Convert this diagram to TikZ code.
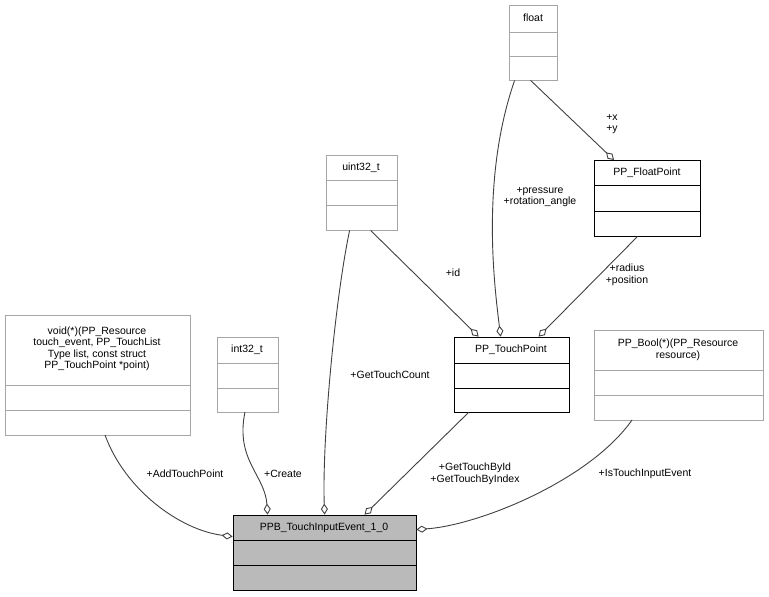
\documentclass[tikz,border=0pt]{standalone}
\usepackage{fontspec}
\setmainfont{Liberation Sans}
\usetikzlibrary{arrows.meta}
\begin{document}
\begin{tikzpicture}[x=1pt,y=-1pt,
  edge/.style={draw=black!75,line width=0.9pt,-{Diamond[open,length=11pt,width=7pt]}},
  lbl/.style={font=\fontsize{10.5}{11.5}\selectfont,align=center,inner sep=0pt},
  ttl/.style={font=\fontsize{10.5}{11.5}\selectfont,align=center,inner sep=0pt}]
\useasboundingbox (0,0) rectangle (769,597);
\newcommand\umlbox[9]{%
  \node[draw=#8,fill=#9,line width=0.8pt,inner sep=0pt,minimum width={#4-#2},minimum height={#5-#3}] (#1) at ({(#2+#4)/2},{(#3+#5)/2}) {};
  \draw[#8,line width=0.8pt] (#2,#6) -- (#4,#6) (#2,#7) -- (#4,#7);}
\umlbox{float}{509}{5}{557}{80}{32}{56}{black!35}{white}
\node[ttl] at (533,18) {float};
\umlbox{fp}{594}{160}{700}{236}{185}{211}{black}{white}
\node[ttl] at (647,173) {PP\_FloatPoint};
\umlbox{uint}{326}{155}{397}{230}{180}{205}{black!35}{white}
\node[ttl] at (361,168) {uint32\_t};
\umlbox{tp}{454}{337}{569}{412}{363}{388}{black}{white}
\node[ttl] at (511,350) {PP\_TouchPoint};
\umlbox{vf}{5}{315}{190}{435}{385}{410}{black!35}{white}
\node[ttl] at (97,349) {void(*)(PP\_Resource\\ touch\_event, PP\_TouchList\\Type list, const struct\\ PP\_TouchPoint *point)};
\umlbox{int}{217}{337}{278}{412}{363}{388}{black!35}{white}
\node[ttl] at (247,350) {int32\_t};
\umlbox{pb}{594}{330}{763}{420}{370}{395}{black!35}{white}
\node[ttl] at (678,350) {PP\_Bool(*)(PP\_Resource\\resource)};
\umlbox{ppb}{233}{515}{416}{590}{540}{565}{black}{black!27}
\node[ttl] at (324,528) {PPB\_TouchInputEvent\_1\_0};
% edges
\draw[edge] ([xshift=22pt]float.south west) -- (614,160);
\node[lbl] at (612,124) {+x\\+y};
\draw[edge] ([xshift=6pt]float.south west) .. controls (480,180) and (495,290) .. ([xshift=47pt]tp.north west);
\node[lbl] at (540,197) {+pressure\\+rotation\_angle};
\draw[edge] ([xshift=45pt]uint.south west) -- ([xshift=25pt]tp.north west);
\node[lbl] at (453,273) {+id};
\draw[edge] ([xshift=44pt]fp.south west) -- ([xshift=85pt]tp.north west);
\node[lbl] at (627,275) {+radius\\+position};
\draw[edge] ([xshift=24pt]uint.south west) .. controls (335,300) and (322,440) .. ([xshift=92pt]ppb.north west);
\node[lbl] at (390,375) {+GetTouchCount};
\draw[edge] ([xshift=15pt]tp.south west) -- ([xshift=132pt]ppb.north west);
\node[lbl] at (475,474) {+GetTouchById\\+GetTouchByIndex};
\draw[edge] (105,435) .. controls (125,490) and (180,530) .. ([yshift=-22pt]ppb.north west);
\node[lbl] at (185,474) {+AddTouchPoint};
\draw[edge] (245,412) .. controls (235,460) and (265,475) .. ([xshift=35pt]ppb.north west);
\node[lbl] at (283,474) {+Create};
\draw[edge] (632,420) .. controls (590,480) and (480,525) .. ([yshift=-15pt]ppb.north east);
\node[lbl] at (645,474) {+IsTouchInputEvent};
\end{tikzpicture}
\end{document}
